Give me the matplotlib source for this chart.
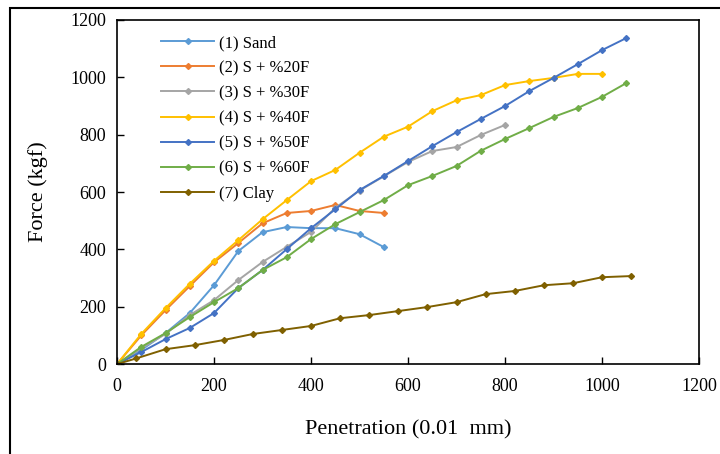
import matplotlib
matplotlib.use('Agg')
import matplotlib.pyplot as plt
from matplotlib.patches import Rectangle

# --- Data ---
x_sand = [0, 50, 100, 150, 200, 250, 300, 350, 400, 450, 500, 550]
y_sand = [0, 49, 108, 178, 275, 394, 460, 478, 474, 474, 453, 408]

x_f20 = [0, 50, 100, 150, 200, 250, 300, 350, 400, 450, 500, 550]
y_f20 = [0, 100, 188, 272, 355, 422, 491, 527, 534, 555, 534, 527]

x_f30 = [0, 50, 100, 150, 200, 250, 300, 350, 400, 450, 500, 550, 600, 650, 700, 750, 800]
y_f30 = [0, 55, 105, 171, 223, 293, 356, 409, 461, 545, 605, 655, 705, 743, 757, 799, 834]

x_f40 = [0, 50, 100, 150, 200, 250, 300, 350, 400, 450, 500, 550, 600, 650, 700, 750, 800, 850, 900, 950, 1000]
y_f40 = [0, 105, 195, 280, 360, 432, 505, 572, 638, 677, 737, 793, 828, 882, 920, 938, 973, 987, 998, 1012, 1012]

x_f50 = [0, 50, 100, 150, 200, 250, 300, 350, 400, 450, 500, 550, 600, 650, 700, 750, 800, 850, 900, 950, 1000, 1050]
y_f50 = [0, 42, 87, 126, 178, 265, 328, 401, 474, 540, 607, 656, 708, 760, 809, 855, 900, 952, 998, 1046, 1095, 1137]

x_f60 = [0, 50, 100, 150, 200, 250, 300, 350, 400, 450, 500, 550, 600, 650, 700, 750, 800, 850, 900, 950, 1000, 1050]
y_f60 = [0, 60, 108, 164, 216, 265, 328, 373, 436, 488, 530, 572, 624, 656, 691, 744, 785, 823, 862, 893, 932, 980]

x_clay = [0, 40, 100, 160, 220, 280, 340, 400, 460, 520, 580, 640, 700, 760, 820, 880, 940, 1000, 1060]
y_clay = [0, 20, 52, 66, 84, 105, 119, 133, 160, 171, 185, 199, 216, 244, 255, 275, 282, 303, 307]

labels = ['(1) Sand', '(2) S + %20F', '(3) S + %30F', '(4) S + %40F',
          '(5) S + %50F', '(6) S + %60F', '(7) Clay']
colors = ['#5B9BD5', '#ED7D31', '#A5A5A5', '#FFC000', '#4472C4', '#70AD47', '#7F6000']

series = [(x_sand, y_sand), (x_f20, y_f20), (x_f30, y_f30), (x_f40, y_f40),
          (x_f50, y_f50), (x_f60, y_f60), (x_clay, y_clay)]

plt.rcParams['font.family'] = ['Liberation Serif', 'DejaVu Serif']

fig = plt.figure(figsize=(7.2, 4.54), dpi=100)
ax = fig.add_axes([0.1625, 0.198, 0.8085, 0.758])

for (xs, ys), lab, col in zip(series, labels, colors):
    ax.plot(xs, ys, color=col, linewidth=1.4, marker='D', markersize=3,
            label=lab)

ax.set_xlim(0, 1200)
ax.set_ylim(0, 1200)
ax.set_xticks(range(0, 1201, 200))
ax.set_yticks(range(0, 1201, 200))
ax.tick_params(direction='in', labelsize=13, length=5, width=1)
ax.tick_params(axis='x', pad=10)
ax.tick_params(axis='y', pad=8)
for sp in ax.spines.values():
    sp.set_linewidth(1.2)

ax.set_xlabel('Penetration (0.01  mm)', fontsize=16, labelpad=18)
ax.set_ylabel('Force (kgf)', fontsize=16, labelpad=16)

ax.legend(loc='upper left', bbox_to_anchor=(0.05, 1.0), frameon=False,
          fontsize=12, handlelength=3.2, labelspacing=0.55,
          handletextpad=0.3)

# outer frame around the figure, as in the source image
fig.patches.append(Rectangle((10 / 720, -0.05), 1.0, 1.05 - 8 / 454,
                             transform=fig.transFigure, fill=False,
                             edgecolor='black', linewidth=1.5))

fig.savefig('out.png', dpi=100)
